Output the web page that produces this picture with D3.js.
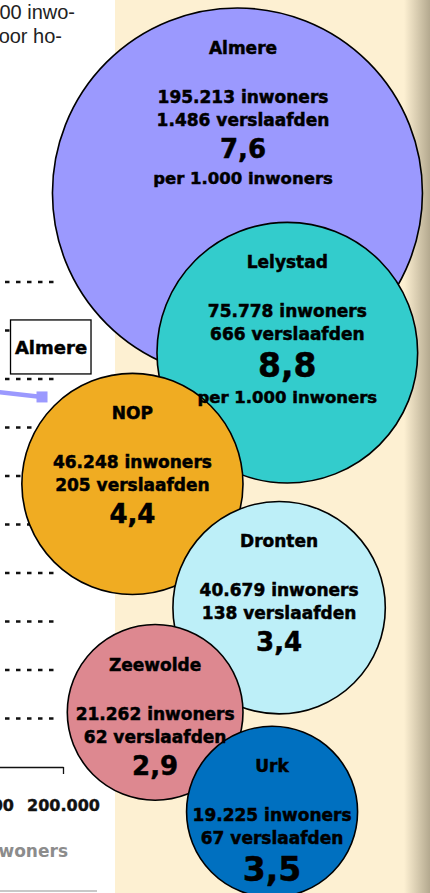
<!DOCTYPE html>
<html lang="nl">
<head>
<meta charset="utf-8">
<script src="https://cdn.jsdelivr.net/npm/d3@7"></script>
<style>
  html, body { margin: 0; padding: 0; background: #fff; overflow: hidden; }
  svg { display: block; }
</style>
</head>
<body>
<svg id="chart"></svg>
<script>
// gemeenten in Flevoland
const gemeenten = ["Almere", "Lelystad", "NOP", "Dronten", "Zeewolde", "Urk"];
const inwoners = [195213, 75778, 46248, 40679, 21262, 19225];
const verslaafden = [1486, 666, 205, 138, 62, 67];

// linker grafiek (valt grotendeels buiten beeld)
const rasterWaarden = [1, 2, 3, 4, 5, 6, 7, 8, 9, 10];
const asWaarden = [100000, 200000];
const lijnInwoners = [100000, 175600];
const lijnPer1000 = [7.78, 7.63];

const width = 430;
const height = 893;

const nl = d3.formatLocale({ decimal: ",", thousands: ".", grouping: [3], currency: ["€ ", ""] });
const fmtInt = nl.format(",d");
const fmtRate = nl.format(".1f");

const bold = "'DejaVu Sans', sans-serif";

const svg = d3.select("#chart").attr("width", width).attr("height", height);
svg.selectAll("*").remove();

// ---- linker grafiek ----
const x = d3.scaleLinear().domain([100000, 200000]).range([-23, 63]);
const y = d3.scaleLinear().domain([0, 10]).range([767, 282]);

// stippellijnen
svg.append("g")
  .selectAll("line")
  .data(rasterWaarden)
  .join("line")
  .attr("x1", 5)
  .attr("x2", 57)
  .attr("y1", (d) => y(d))
  .attr("y2", (d) => y(d))
  .attr("stroke", "#111")
  .attr("stroke-width", 2.6)
  .attr("stroke-dasharray", "4.5 6.5");

// x-as
const xAxis = svg.append("g")
  .attr("transform", `translate(0,${y(0)})`)
  .call(d3.axisBottom(x).tickValues(asWaarden).tickFormat(fmtInt).tickSize(7).tickSizeOuter(0));
xAxis.select(".domain").attr("stroke", "#111").attr("stroke-width", 1.3);
xAxis.selectAll(".tick line").attr("stroke", "#111").attr("stroke-width", 1.3);
xAxis.selectAll(".tick text")
  .attr("y", 33)
  .attr("fill", "#111")
  .attr("stroke", "#111")
  .attr("stroke-width", 0.4)
  .style("font", `bold 16px ${bold}`);

svg.append("text")
  .attr("x", 68)
  .attr("y", 857)
  .attr("text-anchor", "end")
  .attr("fill", "#8c8c8c")
  .style("font", `bold 17px ${bold}`)
  .text("aantal inwoners");

svg.append("line")
  .attr("x1", 0).attr("x2", 97)
  .attr("y1", 891).attr("y2", 891)
  .attr("stroke", "#c8c8c8")
  .attr("stroke-width", 2);

// lijn Almere
const punten = lijnInwoners.map((v, i) => [x(v), y(lijnPer1000[i])]);
svg.append("path")
  .attr("d", d3.line()(punten))
  .attr("fill", "none")
  .attr("stroke", "#9b99fe")
  .attr("stroke-width", 4.5);
const laatste = punten[punten.length - 1];
svg.append("rect")
  .attr("x", laatste[0] - 5.5)
  .attr("y", laatste[1] - 5.5)
  .attr("width", 11)
  .attr("height", 11)
  .attr("fill", "#9b99fe");

// label
const label = svg.append("g").attr("transform", `translate(${laatste[0] - 31.5},${laatste[1] - 77})`);
label.append("rect")
  .attr("width", 80.5)
  .attr("height", 54)
  .attr("fill", "#fff")
  .attr("stroke", "#000")
  .attr("stroke-width", 1.3);
label.append("text")
  .attr("x", 40.5)
  .attr("y", 34)
  .attr("text-anchor", "middle")
  .attr("stroke", "#000")
  .attr("stroke-width", 0.45)
  .style("font", `bold 18px ${bold}`)
  .text("Almere");

// lopende tekst bovenaan (afgesneden)
svg.append("g")
  .style("font", "20px 'Liberation Sans', Arial, sans-serif")
  .attr("fill", "#222")
  .selectAll("text")
  .data(["per 1.000 inwo-", "voor ho-"])
  .join("text")
  .attr("x", (_, i) => [75, 62][i])
  .attr("y", (_, i) => 19 + i * 24)
  .attr("text-anchor", "end")
  .text((d) => d);

// ---- beige paneel ----
const defs = svg.append("defs");
const grad = defs.append("linearGradient").attr("id", "rand").attr("x1", 0).attr("x2", 1);
grad.append("stop").attr("offset", 0).attr("stop-color", "#fdf0d2");
grad.append("stop").attr("offset", 1).attr("stop-color", "#b4a98f");

svg.append("rect")
  .attr("x", 115).attr("y", 0)
  .attr("width", width - 115).attr("height", height)
  .attr("fill", "#fdf0d2");
svg.append("rect")
  .attr("x", 404).attr("y", 0)
  .attr("width", width - 404).attr("height", height)
  .attr("fill", "url(#rand)");

// ---- bellen ----
const kleur = d3.scaleOrdinal()
  .domain(gemeenten)
  .range(["#9b99fe", "#33cccc", "#f0ac22", "#bdeff8", "#dd8890", "#0070c0"]);
const rScale = d3.scaleSqrt().domain([0, d3.max(inwoners)]).range([40, 185]);
const stapel = d3.scaleLinear().domain([0, 1000]).range([8, 1166.6]);
// bellen hangen aan een verticale spil; links liggen ze er tegenaan
const spil = 243;
const uitslag = d3.scaleOrdinal().domain(["midden", "rechts", "links"]).range([-0.03, 0.34, -1]);
const grootCijfer = new Set(["Lelystad", "Urk"]);

let opgeteld = 0;
const bellen = gemeenten.map((naam, i) => {
  const r = rScale(inwoners[i]);
  const top = stapel(opgeteld);
  opgeteld += r;
  const zijde = i === 0 ? "midden" : i % 2 ? "rechts" : "links";
  return {
    naam,
    r,
    top,
    cx: spil + uitslag(zijde) * r,
    cy: top + r,
    inwoners: inwoners[i],
    verslaafden: verslaafden[i],
    per1000: (verslaafden[i] / inwoners[i]) * 1000,
  };
});

// eerst alle cirkels, dan de teksten erboven
svg.append("g")
  .selectAll("circle")
  .data(bellen)
  .join("circle")
  .attr("cx", (d) => d.cx)
  .attr("cy", (d) => d.cy)
  .attr("r", (d) => d.r)
  .attr("fill", (d) => kleur(d.naam))
  .attr("stroke", "#000")
  .attr("stroke-width", 1.6);

const teksten = svg.append("g")
  .selectAll("g")
  .data(bellen)
  .join("g")
  .attr("text-anchor", "middle")
  .attr("fill", "#000")
  .attr("stroke", "#000")
  .attr("stroke-width", 0.5)
  .style("font-family", bold)
  .style("font-weight", "bold");

teksten.each(function (d) {
  const groot = grootCijfer.has(d.naam);
  const tx = d.naam === "Almere" ? spil : d.cx;
  const regels = [
    { t: d.naam, y: d.top + 46, s: 17 },
    { t: `${fmtInt(d.inwoners)} inwoners`, y: d.top + 95, s: 17 },
    { t: `${fmtInt(d.verslaafden)} verslaafden`, y: d.top + 118, s: 17 },
    { t: fmtRate(d.per1000), y: d.top + 118 + (groot ? 37 : 32), s: groot ? 33 : 26 },
  ];
  if (d.r > 120) {
    regels.push({ t: "per 1.000 inwoners", y: regels[3].y + 26, s: 16.5 });
  }
  d3.select(this)
    .selectAll("text")
    .data(regels)
    .join("text")
    .attr("x", tx)
    .attr("y", (r) => r.y)
    .style("font-size", (r) => `${r.s}px`)
    .text((r) => r.t);
});
</script>
</body>
</html>
